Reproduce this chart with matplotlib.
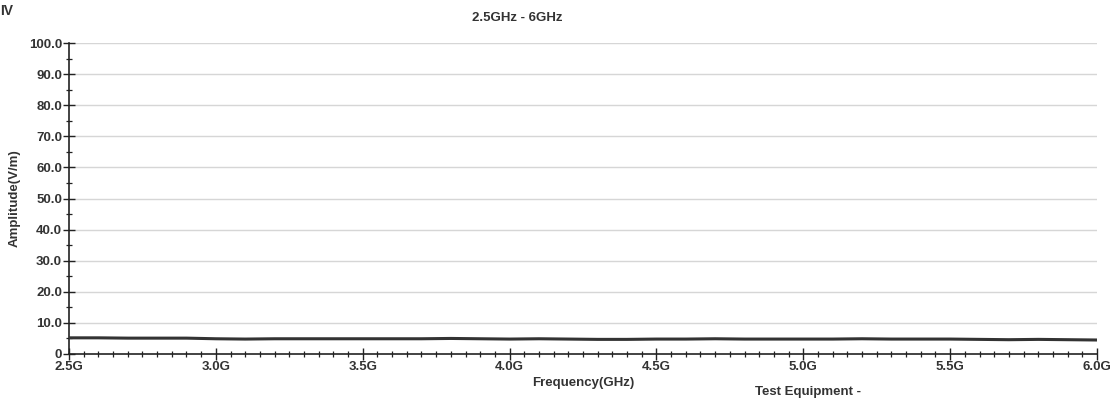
import numpy as np
import matplotlib
matplotlib.use("Agg")
import matplotlib.pyplot as plt
from matplotlib.ticker import MultipleLocator, FuncFormatter

# -----------------------------
# Data
# -----------------------------
freq_ghz = [2.5, 2.6, 2.7, 2.8, 2.9, 3.0, 3.1, 3.2, 3.3, 3.4, 3.5, 3.6,
            3.7, 3.8, 3.9, 4.0, 4.1, 4.2, 4.3, 4.4, 4.5, 4.6, 4.7, 4.8,
            4.9, 5.0, 5.1, 5.2, 5.3, 5.4, 5.5, 5.6, 5.7, 5.8, 5.9, 6.0]
amplitude = [5.2, 5.2, 5.1, 5.1, 5.1, 4.9, 4.8, 4.9, 4.9, 4.9, 4.9, 4.9,
             4.9, 5.0, 4.9, 4.8, 4.9, 4.8, 4.7, 4.7, 4.8, 4.8, 4.9, 4.8,
             4.8, 4.8, 4.8, 4.9, 4.8, 4.8, 4.8, 4.7, 4.6, 4.7, 4.6, 4.5]

x_ticks = [2.5, 3.0, 3.5, 4.0, 4.5, 5.0, 5.5, 6.0]
y_ticks = [0, 10, 20, 30, 40, 50, 60, 70, 80, 90, 100]

title = "2.5GHz - 6GHz"
text_color = "#333333"
fs = 9.5

plt.rcParams["font.family"] = ["Liberation Sans", "DejaVu Sans"]
plt.rcParams["font.weight"] = "bold"

# -----------------------------
# Plot
# -----------------------------
fig = plt.figure(figsize=(11.2, 3.99), dpi=100)
ax = fig.add_axes([69 / 1120, 1 - 354 / 399, 1028 / 1120, 311 / 399])

for y in y_ticks[1:]:
    ax.axhline(y, color="#d6d6d6", linewidth=1.0, zorder=1)

ax.plot(freq_ghz, amplitude, color="#333333", linewidth=2.2, zorder=3)

ax.set_xlim(2.5, 6.0)
ax.set_ylim(0, 100)
ax.set_xticks(x_ticks)
ax.set_yticks(y_ticks)
ax.xaxis.set_minor_locator(MultipleLocator(0.05))
ax.yaxis.set_minor_locator(MultipleLocator(5))
ax.xaxis.set_major_formatter(FuncFormatter(lambda v, p: f"{v:.1f}G"))
ax.yaxis.set_major_formatter(
    FuncFormatter(lambda v, p: "0" if v == 0 else f"{v:.1f}"))

for side in ["top", "right"]:
    ax.spines[side].set_visible(False)
for side in ["left", "bottom"]:
    ax.spines[side].set_color("#222222")
    ax.spines[side].set_linewidth(1.2)

ax.tick_params(axis="both", which="major", direction="inout", length=8,
               width=1.0, colors="#222222", labelcolor=text_color,
               labelsize=fs, pad=1)
ax.tick_params(axis="both", which="minor", direction="inout", length=5,
               width=0.9, colors="#222222")

ax.set_xlabel("Frequency(GHz)", fontsize=fs, color=text_color,
              fontweight="bold", labelpad=3)
ax.set_ylabel("Amplitude(V/m)", fontsize=fs, color=text_color,
              fontweight="bold", labelpad=6)

fig.text(517 / 1120, 1 - 18 / 399, title, ha="center", va="center",
         fontsize=fs, color=text_color, fontweight="bold")
fig.text(0, 1 - 11 / 399, "IV", ha="left", va="center",
         fontsize=10, color=text_color, fontweight="bold")
fig.text(755 / 1120, 1 - 392 / 399, "Test Equipment -", ha="left",
         va="center", fontsize=fs, color=text_color, fontweight="bold")

fig.savefig("out.png", dpi=100, facecolor="white")
plt.close(fig)
